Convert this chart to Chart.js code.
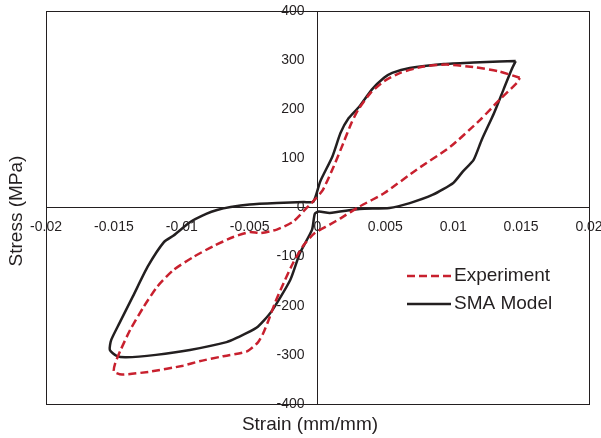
<!DOCTYPE html>
<html>
<head>
<meta charset="utf-8">
<script src="https://cdn.jsdelivr.net/npm/chart.js@4.4.1/dist/chart.umd.min.js"></script>
<style>
  body { margin: 0; background: #fff; }
  #wrap { width: 601px; height: 438px; position: relative; }
</style>
</head>
<body>
<div id="wrap"><canvas id="stressStrain"></canvas></div>
<script>
// experiment loop (red dashed), starting at the right tip
const experimentStrain = [0.0149, 0.0134, 0.0117, 0.0095, 0.0078, 0.0061, 0.0049, 0.0039, 0.0030, 0.0025, 0.0019, 0.0012, 0.0004, -0.0001, -0.0008, -0.0018, -0.0030, -0.0042, -0.0050, -0.0062, -0.0077, -0.0091, -0.0106, -0.0118, -0.0128, -0.0138, -0.0145, -0.0149, -0.0150, -0.0144, -0.0123, -0.0099, -0.0087, -0.0070, -0.0052, -0.0044, -0.0040, -0.0036, -0.0031, -0.0025, -0.0018, -0.0010, -0.0002, 0.0009, 0.0017, 0.0031, 0.0049, 0.0073, 0.0098, 0.0120, 0.0134, 0.0147, 0.0149];
const experimentStress = [264, 277, 285, 291, 287, 274, 257, 233, 199, 172, 131, 84, 36, 19, -1, -29, -45, -52, -50, -60, -79, -100, -127, -161, -202, -249, -290, -317, -334, -340, -334, -322, -313, -303, -293, -275, -256, -229, -192, -154, -113, -76, -52, -35, -22, 2, 29, 77, 124, 179, 219, 254, 264];

// SMA model loop (black solid), starting at the right tip
const modelStrain = [0.0146, 0.0134, 0.0115, 0.0093, 0.0068, 0.0055, 0.0049, 0.0040, 0.0031, 0.0023, 0.0017, 0.0011, 0.0002, -0.0003, -0.0010, -0.0030, -0.0050, -0.0064, -0.0074, -0.0082, -0.0094, -0.0106, -0.0113, -0.0125, -0.0136, -0.0146, -0.0152, -0.0153, -0.0148, -0.0141, -0.0119, -0.0094, -0.0067, -0.0060, -0.0045, -0.0034, -0.0020, -0.0013, -0.0004, -0.0002, 0.0001, 0.0009, 0.0031, 0.0053, 0.0068, 0.0085, 0.0100, 0.0107, 0.0115, 0.0121, 0.0130, 0.0137, 0.0143, 0.0146];
const modelStress = [298, 297, 295, 292, 284, 274, 264, 240, 206, 182, 152, 104, 53, 12, 11, 9, 6, 1, -5, -13, -30, -57, -70, -120, -181, -236, -270, -290, -302, -305, -300, -290, -274, -266, -245, -212, -147, -93, -45, -13, -8, -11, -3, -1, 9, 26, 50, 73, 97, 138, 192, 240, 281, 298];

const strainTicks = [-0.02, -0.015, -0.01, -0.005, 0, 0.005, 0.01, 0.015, 0.02];
const strainLabels = ['-0.02', '-0.015', '-0.01', '-0.005', '0', '0.005', '0.01', '0.015', '0.02'];
const stressTicks = [-400, -300, -200, -100, 0, 100, 200, 300, 400];
const stressLabels = ['-400', '-300', '-200', '-100', '0', '100', '200', '300', '400'];

const ink = '#231f20';
const red = '#c8202e';
const family = '"Liberation Sans", Arial, sans-serif';

const toPoints = (xs, ys) => xs.map((x, i) => ({ x: x, y: ys[i] }));

// y labels of a centred axis sit right on the line; push them left of it
const yLabelGap = {
  id: 'yLabelGap',
  beforeDraw(chart) {
    const s = chart.scales.y;
    s.getLabelItems().forEach(item => {
      if (!item._moved) {
        item.options.translation[0] -= 13;
        item._moved = true;
      }
    });
  }
};

const frameAndText = {
  id: 'frameAndText',
  afterDraw(chart) {
    const ctx = chart.ctx;
    const a = chart.chartArea;
    ctx.save();
    ctx.strokeStyle = ink;
    ctx.lineWidth = 1;
    ctx.strokeRect(Math.round(a.left) + 0.5, Math.round(a.top) + 0.5,
      Math.round(a.right - a.left), Math.round(a.bottom - a.top));

    ctx.fillStyle = ink;
    ctx.font = '19px ' + family;
    ctx.textAlign = 'center';
    ctx.textBaseline = 'middle';
    ctx.fillText('Strain (mm/mm)', 310, 425);
    ctx.save();
    ctx.translate(17, 211);
    ctx.rotate(-Math.PI / 2);
    ctx.fillText('Stress (MPa)', 0, 0);
    ctx.restore();

    // legend
    ctx.textAlign = 'left';
    chart.data.datasets.forEach((ds, i) => {
      const y = 276 + i * 28;
      ctx.beginPath();
      ctx.strokeStyle = ds.borderColor;
      ctx.lineWidth = ds.borderWidth;
      ctx.setLineDash(ds.borderDash || []);
      ctx.moveTo(407, y);
      ctx.lineTo(451, y);
      ctx.stroke();
      ctx.setLineDash([]);
      ctx.fillText(ds.label, 454, y);
    });
    ctx.restore();
  }
};

new Chart(document.getElementById('stressStrain'), {
  type: 'scatter',
  data: {
    datasets: [
      {
        label: 'Experiment',
        data: toPoints(experimentStrain, experimentStress),
        showLine: true,
        borderColor: red,
        borderWidth: 2.5,
        borderDash: [8, 4],
        pointRadius: 0,
        tension: 0.2,
        fill: false
      },
      {
        label: 'SMA Model',
        data: toPoints(modelStrain, modelStress),
        showLine: true,
        borderColor: ink,
        borderWidth: 2.5,
        pointRadius: 0,
        tension: 0.2,
        fill: false
      }
    ]
  },
  options: {
    responsive: true,
    maintainAspectRatio: false,
    animation: false,
    layout: { padding: { left: 46, right: 12, top: 11, bottom: 34 } },
    plugins: { legend: { display: false }, tooltip: { enabled: false } },
    scales: {
      x: {
        type: 'linear',
        min: -0.02,
        max: 0.02,
        position: { y: 0 },
        afterBuildTicks: s => { s.ticks = strainTicks.map(v => ({ value: v })); },
        afterFit: s => { s.paddingLeft = 0; s.paddingRight = 0; },
        grid: { display: false },
        border: { display: true, color: ink, width: 1 },
        ticks: {
          callback: (v, i) => strainLabels[i],
          font: { size: 14, family: family },
          color: ink,
          padding: 3,
          maxRotation: 0,
          autoSkip: false
        }
      },
      y: {
        type: 'linear',
        min: -400,
        max: 400,
        position: { x: 0 },
        afterBuildTicks: s => { s.ticks = stressTicks.map(v => ({ value: v })); },
        afterFit: s => { s.paddingTop = 0; s.paddingBottom = 0; },
        grid: { display: false },
        border: { display: true, color: ink, width: 1 },
        ticks: {
          callback: (v, i) => stressLabels[i],
          font: { size: 14, family: family },
          color: ink,
          autoSkip: false
        }
      }
    }
  },
  plugins: [yLabelGap, frameAndText]
});
</script>
</body>
</html>
